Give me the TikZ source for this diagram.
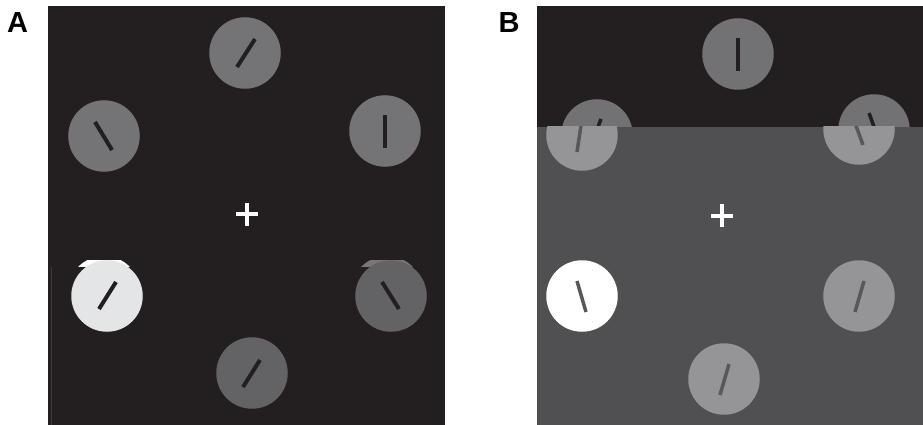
\documentclass[tikz,border=0pt]{standalone}
\usepackage{fontspec}
\setsansfont{Liberation Sans}
\definecolor{bgdark}{HTML}{231F20}
\definecolor{bggray}{HTML}{505052}
\definecolor{circA}{HTML}{747477}
\definecolor{circAdark}{HTML}{636366}
\definecolor{circAcap}{HTML}{77777A}
\definecolor{whiteA}{HTML}{E4E5E7}
\definecolor{circB}{HTML}{727275}
\definecolor{circBlight}{HTML}{959598}
\definecolor{lineB}{HTML}{58585A}
\definecolor{artline}{HTML}{3A3A3B}
\begin{document}
\begin{tikzpicture}[x=1pt,y=-1pt,
  disc/.style={circle, inner sep=0pt, minimum size=71.5pt, draw=none},
  barA/.style={line width=4pt, line cap=butt, bgdark},
  barB/.style={line width=3.5pt, line cap=butt},
  fixcross/.style={line width=4pt, white},
  panellabel/.style={font=\sffamily\bfseries\fontsize{29}{29}\selectfont, inner sep=0pt}]
\useasboundingbox (0,0) rectangle (923,425);

% labels
\node[panellabel] (labA) at (17.5,22.5) {A};
\node[panellabel] (labB) at (509,22.5) {B};

% ---------- Panel A ----------
\fill[bgdark] (48,6) rectangle (445,425);
\draw[line width=1pt, artline] (51,267) -- (51,425);

\begin{scope}
  \clip (48,260.5) rectangle (445,266);
  \fill[white] (104,292) circle (36);
  \fill[circAcap] (387,292) circle (36);
\end{scope}

\node[disc, fill=circA] (a1) at (245,53) {};
\node[disc, fill=circA] (a2) at (104,136) {};
\node[disc, fill=circA] (a3) at (385,131) {};
\node[disc, fill=whiteA] (a4) at (107,296) {};
\node[disc, fill=circAdark] (a5) at (391,296) {};
\node[disc, fill=circAdark] (a6) at (252,373) {};

\draw[barA] (237,67) -- (255,39);
\draw[barA] (95,122) -- (112,150);
\draw[barA] (385,115) -- (385,148);
\draw[barA] (99,309) -- (116,282);
\draw[barA] (382,282) -- (399,309);
\draw[barA] (243,387) -- (260,360);

\coordinate (fixA) at (247,214);
\draw[fixcross] ([xshift=-11pt]fixA) -- ([xshift=11pt]fixA);
\draw[fixcross] ([yshift=-11.5pt]fixA) -- ([yshift=11.5pt]fixA);

% ---------- Panel B ----------
\fill[bgdark] (537,6) rectangle (923,127);
\fill[bggray] (537,127) rectangle (923,425);

\begin{scope}
  \clip (537,6) rectangle (923,127);
  \node[disc, fill=circB] (b1) at (738,54) {};
  \node[disc, fill=circB] (b2d) at (597,135) {};
  \node[disc, fill=circB] (b3d) at (874,130) {};
  \draw[barB, bgdark] (738,38) -- (738,71);
  \draw[barB, bgdark] (601,119) -- (589,151);
  \draw[barB, bgdark] (869,113) -- (881,146);
\end{scope}

\begin{scope}
  \clip (537,127) rectangle (923,425);
  \node[disc, fill=circBlight] (b2) at (582,135) {};
  \node[disc, fill=circBlight] (b3) at (859,129) {};
  \draw[barB, lineB] (577,152) -- (582,119);
  \draw[barB, lineB] (851,112) -- (863,145);
\end{scope}

\node[disc, fill=white] (b4) at (582,296) {};
\node[disc, fill=circBlight] (b5) at (859,296) {};
\node[disc, fill=circBlight] (b6) at (724,379) {};
\draw[barB, lineB] (577,281) -- (586,312);
\draw[barB, lineB] (864,281) -- (855,312);
\draw[barB, lineB] (729,364) -- (720,395);

\coordinate (fixB) at (722,215.5);
\draw[fixcross] ([xshift=-11pt]fixB) -- ([xshift=11pt]fixB);
\draw[fixcross] ([yshift=-11.5pt]fixB) -- ([yshift=11.5pt]fixB);
\end{tikzpicture}
\end{document}
